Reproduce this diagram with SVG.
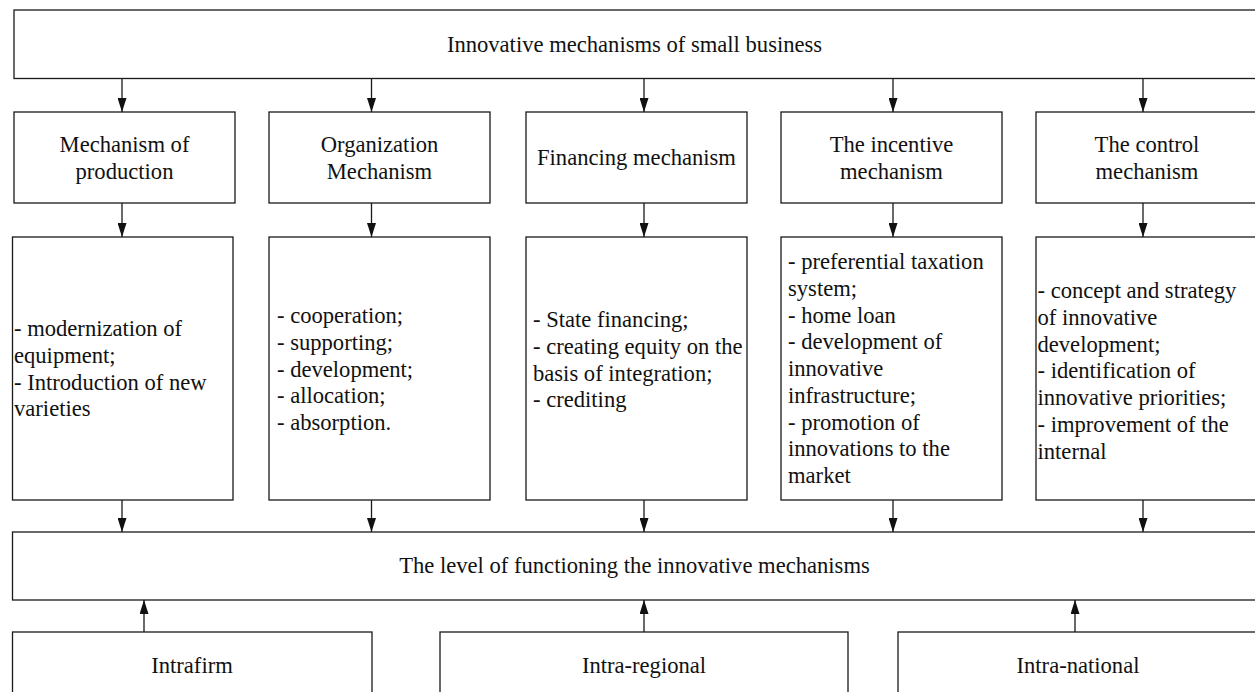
<svg xmlns="http://www.w3.org/2000/svg" width="1255" height="692" viewBox="0 0 1255 692">
  <defs>
    <style>
      .box { fill: #ffffff; stroke: #1a1a1a; stroke-width: 1.3; }
      .lbl { font-family: "Liberation Serif", "Times New Roman", serif; font-size: 22.6px; fill: #111111; }
      .mid { text-anchor: middle; }
      .link { fill: none; stroke: #1a1a1a; stroke-width: 1.3; marker-end: url(#head); }
    </style>
    <marker id="head" viewBox="0 0 14 9" refX="14" refY="4.5" markerWidth="14" markerHeight="9" markerUnits="userSpaceOnUse" orient="auto">
      <path d="M0,0 L14,4.5 L0,9 z" fill="#111111"/>
    </marker>
  </defs>

  <rect width="1255" height="692" fill="#ffffff"/>

  <!-- top level -->
  <g id="innovative-mechanisms">
    <rect class="box" x="14" y="10" width="1250" height="68.5"/>
    <text class="lbl mid" x="634.5" y="52">Innovative mechanisms of small business</text>
  </g>

  <!-- mechanism headers -->
  <g id="production">
    <rect class="box" x="14" y="112" width="221" height="91"/>
    <text class="lbl mid" x="124.5" y="152">Mechanism of<tspan x="124.5" dy="27">production</tspan></text>
  </g>
  <g id="organization">
    <rect class="box" x="269" y="112" width="221" height="91"/>
    <text class="lbl mid" x="379.5" y="152">Organization<tspan x="379.5" dy="27">Mechanism</tspan></text>
  </g>
  <g id="financing">
    <rect class="box" x="526" y="112" width="221" height="91"/>
    <text class="lbl mid" x="636.5" y="165">Financing mechanism</text>
  </g>
  <g id="incentive">
    <rect class="box" x="781" y="112" width="221" height="91"/>
    <text class="lbl mid" x="891.5" y="152">The incentive<tspan x="891.5" dy="27">mechanism</tspan></text>
  </g>
  <g id="control">
    <rect class="box" x="1036" y="112" width="230" height="91"/>
    <text class="lbl mid" x="1147" y="152">The control<tspan x="1147" dy="27">mechanism</tspan></text>
  </g>

  <!-- mechanism contents -->
  <g id="production-items">
    <rect class="box" x="12.5" y="237" width="220.5" height="263"/>
    <text class="lbl" x="14" y="336">- modernization of<tspan x="14" dy="26.8">equipment;</tspan><tspan x="14" dy="26.8">- Introduction of new</tspan><tspan x="14" dy="26.8">varieties</tspan></text>
  </g>
  <g id="organization-items">
    <rect class="box" x="269" y="237" width="221" height="263"/>
    <text class="lbl" x="277" y="323">- cooperation;<tspan x="277" dy="26.8">- supporting;</tspan><tspan x="277" dy="26.8">- development;</tspan><tspan x="277" dy="26.8">- allocation;</tspan><tspan x="277" dy="26.8">- absorption.</tspan></text>
  </g>
  <g id="financing-items">
    <rect class="box" x="526" y="237" width="221" height="263"/>
    <text class="lbl" x="533" y="327">- State financing;<tspan x="533" dy="26.8">- creating equity on the</tspan><tspan x="533" dy="26.8">basis of integration;</tspan><tspan x="533" dy="26.8">- crediting</tspan></text>
  </g>
  <g id="incentive-items">
    <rect class="box" x="781" y="237" width="221" height="263"/>
    <text class="lbl" x="788" y="269">- preferential taxation<tspan x="788" dy="26.75">system;</tspan><tspan x="788" dy="26.75">- home loan</tspan><tspan x="788" dy="26.75">- development of</tspan><tspan x="788" dy="26.75">innovative</tspan><tspan x="788" dy="26.75">infrastructure;</tspan><tspan x="788" dy="26.75">- promotion of</tspan><tspan x="788" dy="26.75">innovations to the</tspan><tspan x="788" dy="26.75">market</tspan></text>
  </g>
  <g id="control-items">
    <rect class="box" x="1036" y="237" width="230" height="263"/>
    <text class="lbl" x="1037.5" y="298">- concept and strategy<tspan x="1037.5" dy="26.8">of innovative</tspan><tspan x="1037.5" dy="26.8">development;</tspan><tspan x="1037.5" dy="26.8">- identification of</tspan><tspan x="1037.5" dy="26.8">innovative priorities;</tspan><tspan x="1037.5" dy="26.8">- improvement of the</tspan><tspan x="1037.5" dy="26.8">internal</tspan></text>
  </g>

  <!-- functioning level -->
  <g id="functioning-level">
    <rect class="box" x="12.5" y="532" width="1250" height="68"/>
    <text class="lbl mid" x="634.5" y="573">The level of functioning the innovative mechanisms</text>
  </g>

  <!-- scopes -->
  <g id="intrafirm">
    <rect class="box" x="12.5" y="632" width="359.5" height="80"/>
    <text class="lbl mid" x="192" y="673">Intrafirm</text>
  </g>
  <g id="intra-regional">
    <rect class="box" x="440" y="632" width="408" height="80"/>
    <text class="lbl mid" x="644" y="673">Intra-regional</text>
  </g>
  <g id="intra-national">
    <rect class="box" x="898" y="632" width="362" height="80"/>
    <text class="lbl mid" x="1078" y="673">Intra-national</text>
  </g>

  <!-- connectors -->
  <g id="connectors">
    <line class="link" x1="122" y1="78.5" x2="122" y2="112"/>
    <line class="link" x1="371.5" y1="78.5" x2="371.5" y2="112"/>
    <line class="link" x1="644" y1="78.5" x2="644" y2="112"/>
    <line class="link" x1="893" y1="78.5" x2="893" y2="112"/>
    <line class="link" x1="1143" y1="78.5" x2="1143" y2="112"/>

    <line class="link" x1="122" y1="203" x2="122" y2="237"/>
    <line class="link" x1="371.5" y1="203" x2="371.5" y2="237"/>
    <line class="link" x1="644" y1="203" x2="644" y2="237"/>
    <line class="link" x1="893" y1="203" x2="893" y2="237"/>
    <line class="link" x1="1143" y1="203" x2="1143" y2="237"/>

    <line class="link" x1="122" y1="500" x2="122" y2="532"/>
    <line class="link" x1="371.5" y1="500" x2="371.5" y2="532"/>
    <line class="link" x1="644" y1="500" x2="644" y2="532"/>
    <line class="link" x1="893" y1="500" x2="893" y2="532"/>
    <line class="link" x1="1143" y1="500" x2="1143" y2="532"/>

    <line class="link" x1="144" y1="632" x2="144" y2="600"/>
    <line class="link" x1="644" y1="632" x2="644" y2="600"/>
    <line class="link" x1="1075" y1="632" x2="1075" y2="600"/>
  </g>
</svg>
